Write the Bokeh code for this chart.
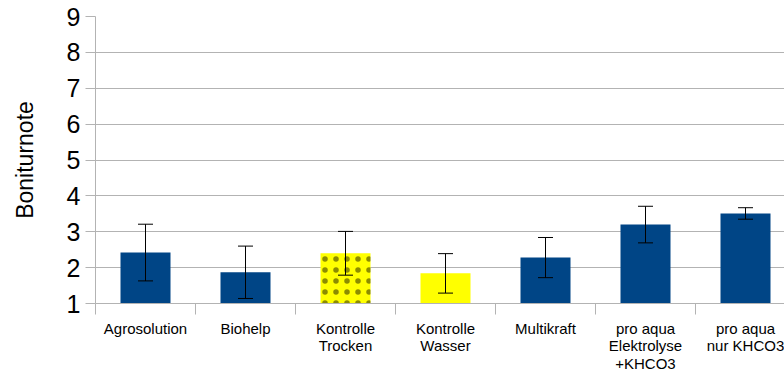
from bokeh.plotting import figure
from bokeh.models import (ColumnDataSource, FixedTicker, Whisker, TeeHead, Range1d,
                          CDSView, IndexFilter)
from bokeh.embed import file_html
from bokeh.resources import INLINE

categories = ["Agrosolution", "Biohelp", "Kontrolle\nTrocken", "Kontrolle\nWasser",
              "Multikraft", "pro aqua\nElektrolyse\n+KHCO3", "pro aqua\nnur KHCO3"]
means = [2.42, 1.87, 2.40, 1.84, 2.28, 3.20, 3.51]
errors = [0.79, 0.73, 0.61, 0.55, 0.56, 0.51, 0.16]
colors = ["#004586", "#004586", "#ffff00", "#ffff00", "#004586", "#004586", "#004586"]
dotted_bars = [2]   # index of the bar with the dot pattern (Kontrolle Trocken)
y_ticks = [1, 2, 3, 4, 5, 6, 7, 8, 9]

xs = [i + 0.5 for i in range(len(categories))]
src = ColumnDataSource(dict(
    x=xs, top=means, color=colors,
    upper=[m + e for m, e in zip(means, errors)],
    lower=[m - e for m, e in zip(means, errors)],
))

p = figure(width=784, height=374, output_backend="svg", toolbar_location=None,
           x_range=Range1d(0, 6.89), y_range=Range1d(1, 9),
           min_border_left=95, min_border_right=0, min_border_top=16, min_border_bottom=71)
p.outline_line_color = None
p.background_fill_color = "white"
p.border_fill_color = "white"

p.vbar(x="x", top="top", bottom=1, width=0.5, source=src, fill_color="color", line_color=None)

p.vbar(x="x", top="top", bottom=1, width=0.5, source=src, view=CDSView(filter=IndexFilter(dotted_bars)),
       fill_color=None, line_color=None, hatch_pattern="dot", hatch_color="#000000",
       hatch_scale=11, hatch_weight=0.5, hatch_alpha=0.45)

w = Whisker(base="x", upper="upper", lower="lower", source=src, line_color="#000000", line_width=1,
            upper_head=TeeHead(size=15, line_color="#000000", line_width=1),
            lower_head=TeeHead(size=15, line_color="#000000", line_width=1),
            level="overlay")
p.add_layout(w)

grey = "#b3b3b3"
p.xgrid.grid_line_color = None
p.ygrid.grid_line_color = grey
p.ygrid.ticker = FixedTicker(ticks=y_ticks)

# x axis
p.xaxis.ticker = FixedTicker(ticks=xs, minor_ticks=list(range(len(categories) + 1)))
p.xaxis.major_label_overrides = {x: c for x, c in zip(xs, categories)}
p.xaxis.major_tick_out = 0
p.xaxis.major_tick_in = 0
p.xaxis.minor_tick_out = 11
p.xaxis.minor_tick_in = 0
p.xaxis.minor_tick_line_color = grey
p.xaxis.axis_line_color = grey
p.xaxis.major_label_standoff = 5
p.xaxis.major_label_text_font = "Liberation Sans"
p.xaxis.major_label_text_font_size = "15px"
p.xaxis.major_label_text_line_height = 1.03
p.xaxis.major_label_text_color = "#000000"
p.xaxis.major_label_orientation = "horizontal"

# y axis
p.yaxis.ticker = FixedTicker(ticks=y_ticks)
p.yaxis.major_tick_out = 10
p.yaxis.major_tick_in = 0
p.yaxis.minor_tick_line_color = None
p.yaxis.major_tick_line_color = grey
p.yaxis.axis_line_color = grey
p.yaxis.major_label_standoff = 5
p.yaxis.major_label_text_font = "Liberation Sans"
p.yaxis.major_label_text_font_size = "25px"
p.yaxis.major_label_text_color = "#000000"
p.yaxis.axis_label = "Boniturnote"
p.yaxis.axis_label_text_font = "Liberation Sans"
p.yaxis.axis_label_text_font_size = "23px"
p.yaxis.axis_label_text_font_style = "normal"
p.yaxis.axis_label_text_color = "#000000"
p.yaxis.axis_label_standoff = 26

open("out.html", "w").write(file_html(p, INLINE))
